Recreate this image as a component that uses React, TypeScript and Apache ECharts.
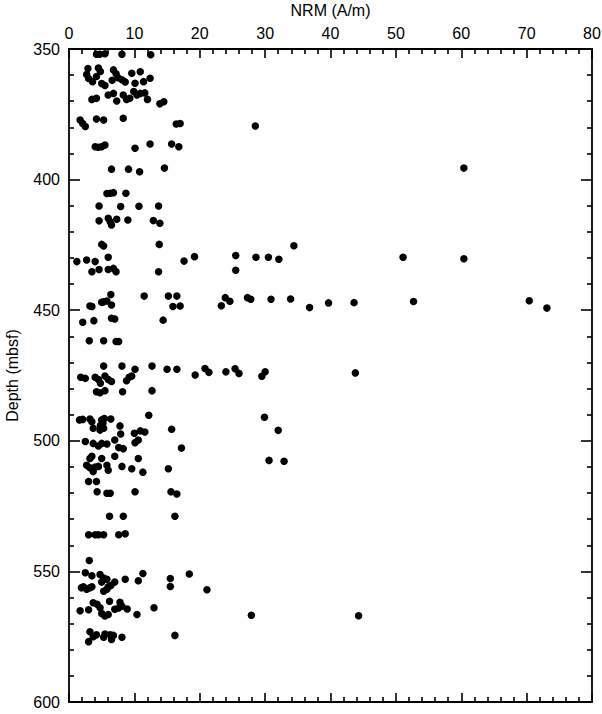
import React, { useEffect, useRef } from "react";
import * as echarts from "echarts";

// [NRM (A/m), depth (mbsf)]
const points350to400: number[][] = [
  [4.2, 352], [4.7, 352], [5.5, 351.8], [8.1, 352], [12.5, 352.2],
  [2.9, 357.5], [2.7, 359.8], [3.0, 361.3], [3.6, 362.5], [4.5, 357.3], [4.8, 358.6], [4.2, 360.5],
  [5.0, 363.2], [5.5, 364], [6.8, 358], [7.2, 359.5], [7.5, 361], [6.6, 362], [8.1, 361.8], [8.6, 362.6],
  [9.6, 359.3], [10.1, 363.1], [10.9, 358.7], [11.4, 362.5], [12.4, 361.2],
  [3.5, 369.3], [4.2, 368.9], [6.0, 367.6], [6.8, 367], [7.3, 369.9], [8.3, 367.6], [8.8, 369.3],
  [9.3, 368.9], [9.9, 366.3], [10.4, 367.6], [10.9, 367], [11.6, 366.8], [12.0, 369.3], [13.9, 371], [14.5, 370.2],
  [1.7, 377.2], [2.1, 378.5], [2.5, 379.7], [4.2, 376.8], [5.3, 377.2], [8.3, 376.5], [16.4, 378.7], [17.0, 378.5],
  [28.5, 379.5],
  [4.0, 387.4], [4.5, 387.6], [5.0, 387.4], [5.5, 386.8], [10.1, 388], [12.4, 386.4], [15.7, 386.4], [16.8, 387.4],
  [6.5, 396], [9.1, 396], [10.8, 397], [14.6, 395.6], [60.4, 395.6],
];

const points400to450: number[][] = [
  [5.8, 405.3], [6.3, 405.2], [6.8, 405], [8.7, 405.2],
  [4.6, 410.1], [7.9, 410.3], [10.7, 410.2], [13.7, 410.1],
  [4.6, 415.8], [6.0, 414.8], [6.3, 416.1], [6.5, 417.4], [7.3, 415.2], [9.0, 415.5], [12.9, 415.7], [13.9, 416.7],
  [5.0, 424.8], [5.3, 425.4], [13.8, 424.8], [34.4, 425.3],
  [1.2, 431.4], [2.7, 430.8], [4.0, 431.4], [3.5, 435.3], [4.6, 434.4], [6.0, 429.7], [6.0, 434.4], [6.8, 434],
  [7.2, 435.3], [13.7, 435.3],
  [17.6, 431.2], [19.2, 429.5], [25.5, 429.1], [25.5, 434.7], [28.6, 429.7], [30.5, 429.7], [32.1, 430.5],
  [51.1, 429.7], [60.4, 430.3],
  [6.4, 444], [11.5, 444.6], [15.2, 444.6], [16.5, 444.6], [15.9, 448.6], [17.0, 448.4], [3.5, 448.6], [3.2, 448.4],
  [5.3, 446.8], [5.0, 447], [5.8, 446.5], [6.5, 448],
  [23.3, 448.3], [23.9, 445.2], [24.6, 446.6], [27.3, 445.2], [27.8, 445.8], [30.9, 445.8], [33.9, 445.7],
  [36.8, 449], [39.7, 447.2], [43.6, 447.1], [52.7, 446.7], [70.4, 446.4], [73.1, 449.2],
];

const points450to500: number[][] = [
  [6.5, 453.1], [7.0, 453.4], [2.1, 454.6], [3.8, 454], [14.4, 453.8],
  [3.1, 461.7], [5.3, 461.7], [7.2, 462], [7.6, 462],
  [5.3, 471.4], [8.1, 471.4], [10.1, 472.6], [12.7, 471.4], [15.0, 472.6], [16.5, 472.6],
  [1.8, 475.7], [2.5, 476.1], [4.0, 475.7], [4.5, 476.5], [4.8, 478], [5.5, 475.2], [6.0, 476.5], [6.5, 477.3],
  [8.8, 477], [9.2, 475.7], [9.6, 475.2],
  [4.2, 481.2], [4.75, 481.6], [5.5, 480.8], [8.2, 481.2], [12.7, 480.8],
  [19.3, 474.8], [20.8, 472.3], [21.4, 473.8], [24.0, 473.6], [25.4, 472.4], [26.0, 474.2], [29.5, 475.3],
  [30.0, 473.6], [43.8, 474],
  [1.6, 492], [2.1, 491.8], [3.2, 491.7], [3.5, 492.7], [5.0, 492], [5.4, 491.5], [6.4, 491.7], [12.2, 490.2],
  [4.8, 494.1], [5.2, 493.2],
  [3.7, 495.2], [4.75, 495.9], [5.3, 495.2], [7.8, 494.3], [7.9, 497.4], [10.0, 497.1], [10.9, 496.2],
  [11.6, 496.6], [15.7, 495.6],
  [29.9, 491], [32.0, 496],
];

const points500to550: number[][] = [
  [10.1, 500.7], [10.6, 499.7], [2.5, 500.3], [3.7, 501], [4.5, 502], [5.0, 501], [5.8, 501.2], [7.0, 499.7],
  [7.6, 502.6], [8.3, 503], [17.2, 502.8],
  [3.5, 505.9], [3.2, 506.8], [5.0, 506.8], [7.0, 505.9], [10.6, 506.8],
  [2.7, 509.4], [3.2, 510.3], [4.0, 510], [4.5, 509.8], [5.8, 509.4], [6.0, 511.3], [8.1, 509.8], [9.6, 510.7],
  [11.3, 512], [15.2, 510.7], [3.7, 511.8],
  [30.6, 507.5], [32.9, 507.8],
  [3.0, 515.6], [4.2, 515.6], [4.3, 519.5], [5.8, 520.1], [6.3, 520.1], [10.1, 519.5], [15.6, 519.5], [16.5, 520.4],
  [6.2, 528.9], [8.3, 528.9], [16.2, 528.9],
  [3.0, 536], [4.0, 536], [4.5, 536], [5.3, 536], [7.6, 536], [8.6, 535.6],
  [3.1, 545.8],
];

const points550to600: number[][] = [
  [2.5, 550.5], [3.5, 551.7], [4.75, 551.2], [5.3, 552.5], [5.8, 553], [1.9, 556.3], [2.2, 555.9], [2.7, 556.8],
  [3.2, 556.3], [3.5, 555.9], [5.0, 554.1], [5.3, 557.6], [5.8, 556.8], [6.0, 555.9], [6.4, 555.4], [7.0, 554.1],
  [8.6, 553], [10.6, 553.6], [11.3, 550.8], [15.5, 552.7], [15.5, 555.8], [18.4, 551], [21.1, 557],
  [1.7, 565.1], [3.0, 564.7], [3.7, 562], [4.3, 562.6], [4.75, 563.9], [5.0, 566.1], [5.5, 567.1], [6.0, 566.5],
  [6.2, 561.4], [7.0, 564.5], [7.6, 564], [7.8, 561.8], [8.1, 563.3], [8.9, 564.4], [10.4, 566.5], [13.0, 563.9],
  [16.2, 574.5], [27.9, 566.8], [44.3, 567],
  [3.0, 576.9], [3.2, 573.1], [3.7, 575], [4.2, 574.3], [5.3, 575.2], [5.5, 574], [6.3, 574.3], [6.5, 576.1],
  [6.8, 574.5], [8.1, 575.2],
];

const xTitle = "NRM (A/m)";
const yTitle = "Depth (mbsf)";

const FONT = "'Liberation Sans', Arial, Helvetica, sans-serif";

export default function App() {
  const ref = useRef<HTMLDivElement>(null);
  useEffect(() => {
    if (!ref.current) return;
    const chart = echarts.init(ref.current, null, { renderer: "svg" });
    const line = { show: true, onZero: false, lineStyle: { color: "#000", width: 1.8 } };
    const tick = { show: true, inside: true, length: 9, lineStyle: { color: "#000", width: 1.6 } };
    const minor = { show: true, splitNumber: 5, length: 5, lineStyle: { color: "#000", width: 1.6 } };
    const label = { color: "#000", fontSize: 16, fontFamily: FONT };
    const nameStyle = { color: "#000", fontSize: 16, fontFamily: FONT };
    const data = [
      ...points350to400,
      ...points400to450,
      ...points450to500,
      ...points500to550,
      ...points550to600,
    ];
    chart.setOption({
      animation: false,
      backgroundColor: "#fff",
      grid: {
        left: 69, top: 49, right: 10, bottom: 12,
        containLabel: false, outerBoundsMode: "none",
      },
      xAxis: [
        {
          type: "value", position: "top", min: 0, max: 80, interval: 10,
          axisLine: line, axisTick: tick, minorTick: minor, splitLine: { show: false },
          axisLabel: { ...label, margin: 8 },
          name: xTitle, nameLocation: "middle", nameGap: 31,
          nameTextStyle: nameStyle,
        },
        {
          type: "value", position: "bottom", min: 0, max: 80, interval: 10,
          axisLine: line, axisTick: tick, minorTick: minor, splitLine: { show: false },
          axisLabel: { show: false },
        },
      ],
      yAxis: [
        {
          type: "value", position: "left", inverse: true, min: 350, max: 600, interval: 50,
          axisLine: line, axisTick: { ...tick, length: 11 }, minorTick: minor, splitLine: { show: false },
          axisLabel: { ...label, margin: 9 },
          name: yTitle, nameLocation: "middle", nameGap: 49, nameRotate: 90,
          nameTextStyle: nameStyle,
        },
        {
          type: "value", position: "right", inverse: true, min: 350, max: 600, interval: 50,
          axisLine: line, axisTick: { ...tick, length: 11 }, minorTick: minor, splitLine: { show: false },
          axisLabel: { show: false },
        },
      ],
      series: [
        {
          type: "scatter", xAxisIndex: 0, yAxisIndex: 0, data,
          symbol: "circle", symbolSize: 7.5,
          itemStyle: { color: "#000", opacity: 1 },
        },
      ],
    });
    return () => chart.dispose();
  }, []);
  return (
    <div
      ref={ref}
      style={{ position: "fixed", left: 0, top: 0, width: 602, height: 714, background: "#fff" }}
    />
  );
}
